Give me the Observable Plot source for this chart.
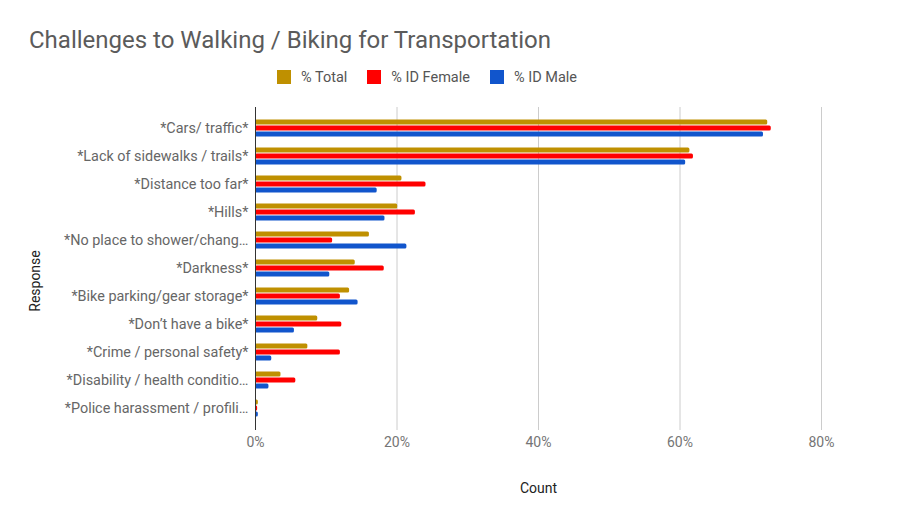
<!DOCTYPE html>
<html>
<head>
<meta charset="utf-8">
<script src="https://cdn.jsdelivr.net/npm/d3@7"></script>
<script src="https://cdn.jsdelivr.net/npm/@observablehq/plot@0.6"></script>
<style>
  html, body { margin: 0; padding: 0; background: #fff; }
  #wrap { width: 900px; height: 522px; font-family: Roboto, "Noto Sans", sans-serif; }
  #title { box-sizing: border-box; height: 60px; padding: 26px 0 0 29px; font-size: 24px; line-height: 28px; color: #5b5b5b; white-space: nowrap; }
  #legend { box-sizing: border-box; height: 34px; padding-left: 277px; display: flex; align-items: center; font-size: 14.5px; color: #555; }
  .item { display: flex; align-items: center; margin-right: 20px; }
  .sw { width: 14px; height: 14px; margin-right: 10px; }
  svg { display: block; }
</style>
</head>
<body>
<div id="wrap">
  <div id="title">Challenges to Walking / Biking for Transportation</div>
  <div id="legend"></div>
  <div id="chart"></div>
</div>
<script>
const categories = [
  "*Cars/ traffic*",
  "*Lack of sidewalks / trails*",
  "*Distance too far*",
  "*Hills*",
  "*No place to shower/chang…",
  "*Darkness*",
  "*Bike parking/gear storage*",
  "*Don’t have a bike*",
  "*Crime / personal safety*",
  "*Disability / health conditio…",
  "*Police harassment / profili…"
];
const seriesNames = ["% Total", "% ID Female", "% ID Male"];
const seriesColors = ["#bf9000", "#ff0000", "#1155cc"];
const total  = [72.4, 61.4, 20.7, 20.1, 16.1, 14.1, 13.3, 8.8, 7.4, 3.6, 0.4];
const female = [72.9, 61.9, 24.1, 22.6, 10.9, 18.2, 12.0, 12.2, 12.0, 5.7, 0.3];
const male   = [71.8, 60.8, 17.2, 18.3, 21.4, 10.5, 14.5, 5.5, 2.3, 1.9, 0.4];
const xTicks = [0, 20, 40, 60, 80];

const legend = document.getElementById("legend");
seriesNames.forEach((name, i) => {
  const it = document.createElement("div");
  it.className = "item";
  const sw = document.createElement("div");
  sw.className = "sw";
  sw.style.background = seriesColors[i];
  const tx = document.createElement("span");
  tx.textContent = name;
  it.appendChild(sw); it.appendChild(tx);
  legend.appendChild(it);
});

const rows = (vals) => categories.map((c, i) => ({response: c, value: vals[i]}));
const seriesData = [total, female, male];
const offsets = [-6, 0, 6];
const bh = (28.18 - 5.2) / 2;

const chart = Plot.plot({
  width: 900,
  height: 428,
  marginTop: 13,
  marginBottom: 92,
  marginLeft: 255,
  marginRight: 79,
  style: {fontFamily: "Roboto, sans-serif", fontSize: "14px", color: "#555", background: "#fff"},
  x: {domain: [0, 80], ticks: xTicks},
  y: {domain: categories, padding: 0, insetTop: 6, insetBottom: 7},
  marks: [
    Plot.gridX(xTicks.slice(1), {stroke: "#cccccc", strokeOpacity: 1}),
    ...seriesData.map((vals, i) => Plot.barX(rows(vals), {
      x: "value", y: "response", fill: seriesColors[i],
      insetTop: bh, insetBottom: bh, dy: offsets[i], rx: 1.5
    })),
    Plot.ruleX([0], {stroke: "#333333"}),
    Plot.axisX({ticks: xTicks, tickSize: 0, tickPadding: 7, tickFormat: d => d + "%", fill: "#757575", label: null, fontSize: 14}),
    Plot.axisY({tickSize: 0, tickPadding: 7, label: null, fill: "#666", fontSize: 14.4}),
    Plot.text(["Count"], {frameAnchor: "bottom", dy: 62, text: d => d, fill: "#222", fontSize: 14}),
    Plot.text(["Response"], {frameAnchor: "left", dx: -220, dy: 12, rotate: -90, textAnchor: "middle", text: d => d, fill: "#222", fontSize: 14})
  ]
});
document.getElementById("chart").appendChild(chart);
</script>
</body>
</html>
